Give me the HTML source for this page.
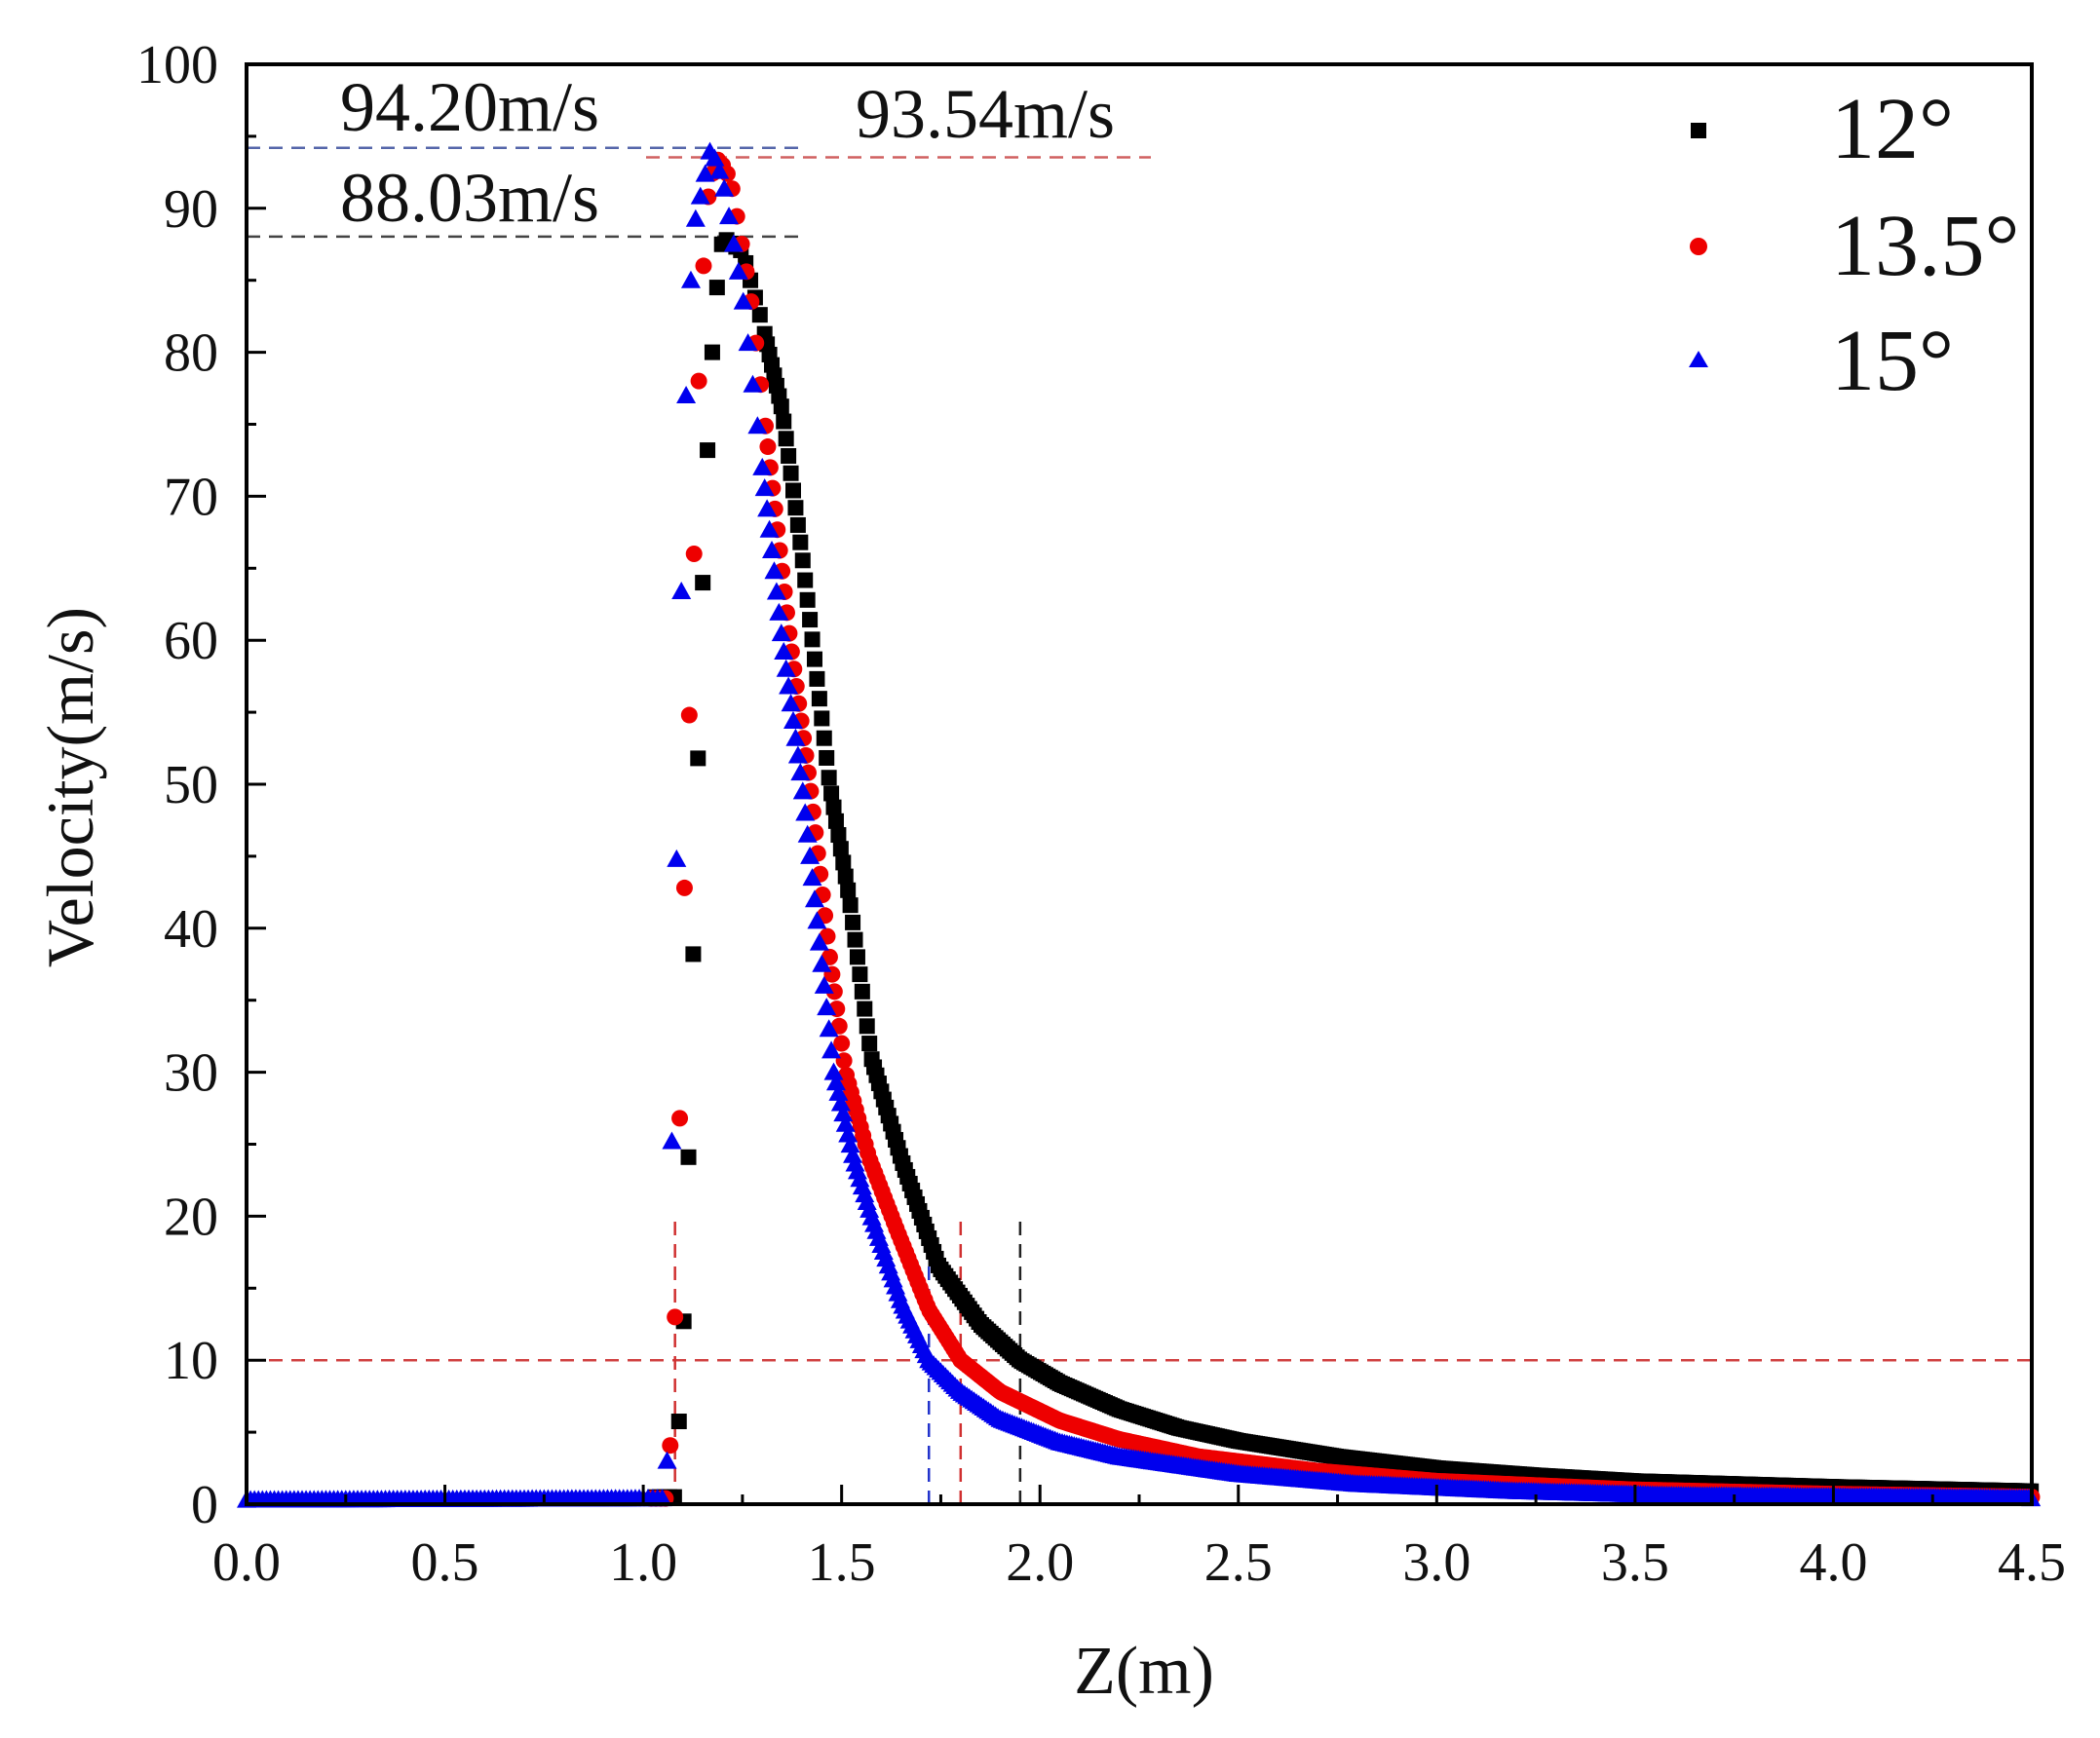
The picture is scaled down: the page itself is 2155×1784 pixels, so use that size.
<!DOCTYPE html>
<html><head><meta charset="utf-8"><style>
html,body{margin:0;padding:0;background:#fff;}
svg{display:block;}
text{font-family:"Liberation Serif","DejaVu Serif",serif;fill:#111;}
</style></head><body>
<svg id="s" width="2155" height="1784" viewBox="0 0 2155 1784" xmlns="http://www.w3.org/2000/svg">
<rect width="2155" height="1784" fill="#fff"/>
<g id="dash"></g>
<g id="data"></g>
<rect x="253" y="66" width="1832" height="1478" fill="none" stroke="#000" stroke-width="4"/>
<g id="ticks" stroke="#000" stroke-width="3"></g>
<g id="lbl" font-size="56"></g>
<text x="1174" y="1738" font-size="70" text-anchor="middle">Z(m)</text>
<text transform="translate(95,808) rotate(-90)" font-size="68" text-anchor="middle">Velocity(m/s)</text>
<text x="349" y="134" font-size="72">94.20m/s</text>
<text x="349" y="227" font-size="72">88.03m/s</text>
<text x="878" y="141" font-size="72">93.54m/s</text>
<rect x="1735" y="126" width="16" height="16" fill="#000"/>
<circle cx="1743" cy="253" r="9" fill="#e00"/>
<polygon points="1743,360 1753,377 1733,377" fill="#00e"/>
<text x="1879" y="162" font-size="90">12°</text>
<text x="1879" y="282" font-size="90">13.5°</text>
<text x="1879" y="400" font-size="90">15°</text>
</svg>
<script>
const NS="http://www.w3.org/2000/svg";
const X=z=>253+z*1832/4.5, Y=v=>1544-v*14.78;
function el(p,t,a){const e=document.createElementNS(NS,t);for(const k in a)e.setAttribute(k,a[k]);document.getElementById(p).appendChild(e);return e;}
for(let v=0;v<=100;v+=5){const y=Y(v);el('ticks','line',{x1:253,x2:253+(v%10?10:20),y1:y,y2:y});
 if(v%10==0){const t=el('lbl','text',{x:224,y:y+19,'text-anchor':'end'});t.textContent=v;}}
for(let i=0;i<=18;i++){const z=i*0.25,x=X(z);el('ticks','line',{x1:x,x2:x,y1:1544,y2:1544-(i%2?10:20)});
 if(i%2==0){const t=el('lbl','text',{x:x,y:1622,'text-anchor':'middle'});t.textContent=(z).toFixed(1);}}
function d(x1,y1,x2,y2,c){el('dash','line',{x1,y1,x2,y2,stroke:c,'stroke-width':2.5,'stroke-dasharray':'14 9'});}
d(253,Y(94.2),823,Y(94.2),'#5566aa');
d(663,Y(93.54),1181,Y(93.54),'#d06060');
d(253,Y(88.03),823,Y(88.03),'#444');
d(253,Y(10),2085,Y(10),'#d04040');
d(X(1.08),1544,X(1.08),Y(20),'#d03030');
d(X(1.72),1544,X(1.72),Y(20),'#2233cc');
d(X(1.8),1544,X(1.8),Y(20),'#d03030');
d(X(1.95),1544,X(1.95),Y(20),'#222');
function interp(k,z){if(z<=k[0][0])return k[0][1];for(let i=1;i<k.length;i++){if(z<=k[i][0]){const a=k[i-1],b=k[i];return a[1]+(b[1]-a[1])*(z-a[0])/(b[0]-a[0]);}}return k[k.length-1][1];}
const S={
k:[[0,0.3],[1.08,0.5],[1.1,11],[1.11,19.5],[1.12,31],[1.13,43],[1.14,54],[1.15,64],[1.16,72],[1.17,78],[1.18,83],[1.2,88],[1.25,87],[1.3,82],[1.35,76],[1.4,66],[1.47,50],[1.52,42],[1.575,31],[1.65,24],[1.745,16.5],[1.85,12.5],[1.95,10],[2.05,8.4],[2.2,6.6],[2.35,5.3],[2.5,4.4],[2.75,3.3],[3.0,2.5],[3.25,2.0],[3.5,1.6],[4.0,1.2],[4.5,0.9]],
r:[[0,0.3],[1.06,0.4],[1.07,5],[1.08,13],[1.09,24],[1.1,38],[1.11,50],[1.12,58],[1.13,68],[1.14,78],[1.15,85],[1.16,90],[1.17,92],[1.19,93.5],[1.22,92],[1.27,84],[1.32,72],[1.37,60],[1.42,50],[1.47,38],[1.51,30],[1.57,24],[1.64,19],[1.72,13.5],[1.8,10],[1.9,7.8],[2.05,5.8],[2.2,4.5],[2.4,3.3],[2.7,2.3],[3.0,1.6],[3.5,1.0],[4.0,0.7],[4.5,0.5]],
b:[[0,0.3],[1.05,0.4],[1.06,3],[1.07,22],[1.08,38],[1.09,55],[1.1,69],[1.11,79],[1.12,85],[1.13,89],[1.17,94.2],[1.2,92],[1.25,84],[1.3,72],[1.35,60],[1.4,50],[1.44,40],[1.48,30],[1.53,24],[1.575,20],[1.65,14],[1.72,10],[1.8,7.8],[1.9,5.9],[2.05,4.3],[2.2,3.3],[2.5,2.1],[2.8,1.4],[3.2,0.9],[3.6,0.6],[4.5,0.4]]};
function draw(k,shape,col,st){let out=[];
 for(let z=st;z<=4.5;z+= (z>1.0&&z<1.3)?0.012:(z<1?0.01:0.006)){
  const v=interp(k,z),x=X(z),y=Y(v);
  if(shape=='s')out.push(`<rect x="${x-8}" y="${y-8}" width="16" height="16" fill="${col}"/>`);
  else if(shape=='c')out.push(`<circle cx="${x}" cy="${y}" r="8.5" fill="${col}"/>`);
  else out.push(`<polygon points="${x},${y-10} ${x+10},${y+8} ${x-10},${y+8}" fill="${col}"/>`);}
 document.getElementById('data').insertAdjacentHTML('beforeend',out.join(''));}
draw(S.k,'s','#000',1.03);
draw(S.r,'c','#e00',1.02);
draw(S.b,'t','#00e',0.0);
</script>
</body></html>
